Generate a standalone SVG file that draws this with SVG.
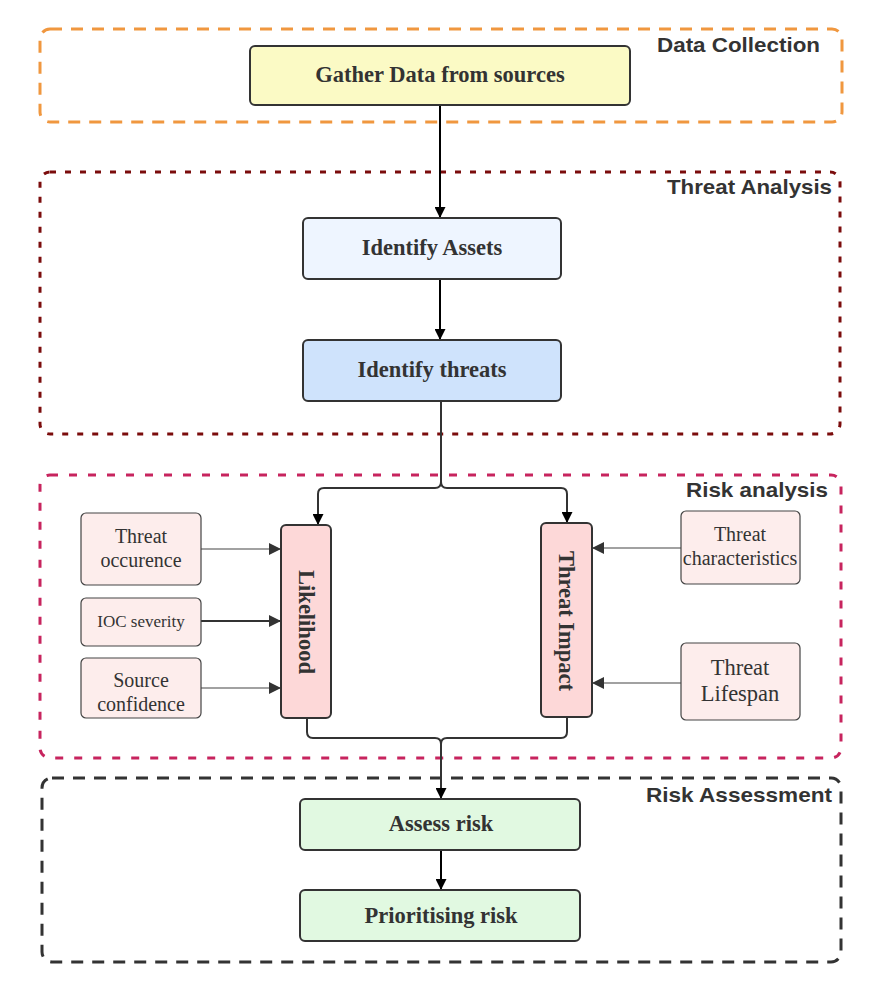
<svg xmlns="http://www.w3.org/2000/svg" width="887" height="990" viewBox="0 0 887 990">
<defs>
<marker id="ah" viewBox="0 0 10 10" refX="10" refY="5" markerWidth="11" markerHeight="11" markerUnits="userSpaceOnUse" orient="auto">
<path d="M0,0 L10,5 L0,10 z" fill="#000"/>
</marker>
<marker id="ah2" viewBox="0 0 10 10" refX="10" refY="5" markerWidth="14" markerHeight="12" markerUnits="userSpaceOnUse" orient="auto">
<path d="M0,0 L10,5 L0,10 z" fill="#333"/>
</marker>
</defs>
<style>
.cont{fill:none;stroke-width:3}
.clabel{font-family:"Liberation Sans",Arial,sans-serif;font-weight:bold;font-size:21px;fill:#333;text-anchor:end}
.node{stroke:#333;stroke-width:2}
.nt{font-family:"Liberation Serif","Times New Roman",serif;font-weight:bold;font-size:22.5px;fill:#333;text-anchor:middle;dominant-baseline:central}
.st{font-family:"Liberation Serif","Times New Roman",serif;font-size:20px;fill:#333;text-anchor:middle;dominant-baseline:central}
.st17{font-size:17px}
.st22{font-size:22.5px}
.small{stroke:#444;stroke-width:1.2;fill:#FDEDEC}
.conn{fill:none;stroke:#000;stroke-width:2}
.conn2{fill:none;stroke:#333;stroke-width:2}
.thin{fill:none;stroke:#444;stroke-width:1.2}
</style>
<rect width="887" height="990" fill="#fff"/>
<g id="containers">
<rect class="cont" x="40" y="29" width="802" height="93" rx="10" stroke="#F0973F" stroke-dasharray="12 9"/>
<text class="clabel" x="820" y="52" textLength="163" lengthAdjust="spacingAndGlyphs">Data Collection</text>
<rect class="cont" x="40" y="172" width="800" height="262" rx="10" stroke="#7B0C0C" stroke-dasharray="6 9"/>
<text class="clabel" x="832" y="194" textLength="165" lengthAdjust="spacingAndGlyphs">Threat Analysis</text>
<rect class="cont" x="40" y="475" width="801" height="283" rx="10" stroke="#C7245E" stroke-dasharray="8 11"/>
<text class="clabel" x="828" y="497" textLength="142" lengthAdjust="spacingAndGlyphs">Risk analysis</text>
<rect class="cont" x="42" y="778" width="799" height="184" rx="10" stroke="#333" stroke-dasharray="12 9"/>
<text class="clabel" x="832" y="802" textLength="186" lengthAdjust="spacingAndGlyphs">Risk Assessment</text>
</g>
<g id="connectors">
<path class="conn" d="M440,105 V218" marker-end="url(#ah)"/>
<path class="conn" d="M440,279 V340" marker-end="url(#ah)"/>
<path class="conn2" d="M441,401 V482 Q441,488 435,488 H324 Q318,488 318,494 V525" marker-end="url(#ah)"/>
<path class="conn2" d="M441,482 Q441,488 447,488 H561 Q567,488 567,494 V523" marker-end="url(#ah)"/>
<path class="conn2" d="M307,718 V732 Q307,738 313,738 H435 Q441,738 441,744 V799" marker-end="url(#ah)"/>
<path class="conn2" d="M567,717 V732 Q567,738 561,738 H447 Q441,738 441,744"/>
<path class="conn" d="M441,850 V890" marker-end="url(#ah)"/>
<path class="thin" d="M201,549 H281" marker-end="url(#ah2)"/>
<path class="conn2" d="M201,621 H281" marker-end="url(#ah2)"/>
<path class="thin" d="M201,688 H281" marker-end="url(#ah2)"/>
<path class="thin" d="M681,548 H592" marker-end="url(#ah2)"/>
<path class="thin" d="M681,683 H592" marker-end="url(#ah2)"/>
</g>
<g id="gather">
<rect class="node" x="250" y="46" width="380" height="59" rx="5" fill="#FBFAC5"/>
<text class="nt" x="440" y="74">Gather Data from sources</text>
</g>
<g id="assets">
<rect class="node" x="303" y="218" width="258" height="61" rx="5" fill="#EEF5FF"/>
<text class="nt" x="432" y="247">Identify Assets</text>
</g>
<g id="threats">
<rect class="node" x="303" y="340" width="258" height="61" rx="5" fill="#CFE3FC"/>
<text class="nt" x="432" y="369">Identify threats</text>
</g>
<g id="likelihood">
<rect class="node" x="281" y="525" width="50" height="193" rx="5" fill="#FDD8D8"/>
<text class="nt" x="0" y="0" transform="translate(306,622) rotate(90)">Likelihood</text>
</g>
<g id="impact">
<rect class="node" x="541" y="523" width="51" height="194" rx="5" fill="#FDD8D8"/>
<text class="nt" x="0" y="0" transform="translate(566,621) rotate(90)">Threat Impact</text>
</g>
<g id="occurence">
<rect class="small" x="81" y="513" width="120" height="72" rx="5"/>
<text class="st" x="141" y="536">Threat</text>
<text class="st" x="141" y="560">occurence</text>
</g>
<g id="ioc">
<rect class="small" x="81" y="598" width="120" height="48" rx="5"/>
<text class="st st17" x="141" y="621">IOC severity</text>
</g>
<g id="source">
<rect class="small" x="81" y="658" width="120" height="60" rx="5"/>
<text class="st" x="141" y="680">Source</text>
<text class="st" x="141" y="704">confidence</text>
</g>
<g id="characteristics">
<rect class="small" x="681" y="511" width="119" height="73" rx="5"/>
<text class="st" x="740" y="534">Threat</text>
<text class="st" x="740" y="558">characteristics</text>
</g>
<g id="lifespan">
<rect class="small" x="681" y="643" width="119" height="77" rx="5"/>
<text class="st st22" x="740" y="667">Threat</text>
<text class="st st22" x="740" y="693">Lifespan</text>
</g>
<g id="assess">
<rect class="node" x="300" y="799" width="280" height="51" rx="5" fill="#E1F9E1"/>
<text class="nt" x="441" y="823">Assess risk</text>
</g>
<g id="prioritising">
<rect class="node" x="300" y="890" width="280" height="51" rx="5" fill="#E1F9E1"/>
<text class="nt" x="441" y="915">Prioritising risk</text>
</g>
</svg>
